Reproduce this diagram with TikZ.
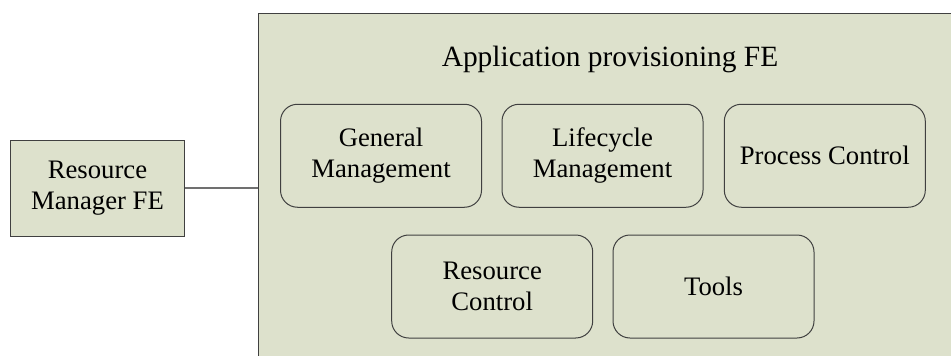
\documentclass[tikz,border=0pt]{standalone}
\usepackage{fontspec}
\setmainfont{Liberation Serif}
\definecolor{boxfill}{RGB}{221,225,204}
\definecolor{boxline}{RGB}{64,64,64}
\definecolor{linkline}{RGB}{112,112,112}
\begin{document}
\begin{tikzpicture}[x=1pt,y=-1pt,
  every node/.style={font=\fontsize{26.7}{31}\selectfont, align=center, inner sep=0pt},
  outerbox/.style={draw=boxline, fill=boxfill, line width=1pt},
  modbox/.style={draw=boxline, line width=1pt, rounded corners=17pt, minimum width=201pt, minimum height=103pt}]
\useasboundingbox (0,0) rectangle (951,356);
\clip (0,0) rectangle (951,356);
\node[outerbox, minimum width=720pt, minimum height=370pt, anchor=north west] (app) at (257.5,13) {};
\node[anchor=base, font=\fontsize{29.4}{34}\selectfont] (title) at (610,66) {Application provisioning FE};
\node[outerbox, minimum width=174pt, minimum height=96pt] (rm) at (97.5,188) {Resource\\Manager FE};
\coordinate (appleft) at (257.5,188);
\draw[linkline, line width=1.2pt] (rm.east) -- (appleft);
\node[modbox] (gm) at (381,155.75) {General\\Management};
\node[modbox] (lm) at (602.5,155.75) {Lifecycle\\Management};
\node[modbox] (pc) at (824.8,155.75) {Process Control};
\node[modbox] (rc) at (492.2,286.5) {Resource\\Control};
\node[modbox] (tl) at (713.5,286.5) {Tools};
\end{tikzpicture}
\end{document}
